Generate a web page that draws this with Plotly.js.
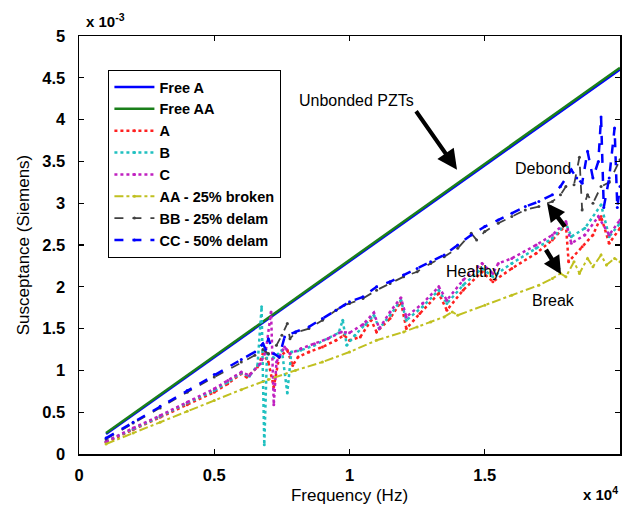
<!DOCTYPE html>
<html>
<head>
<meta charset="utf-8">
<script src="https://cdn.plot.ly/plotly-3.0.1.min.js"></script>
<style>html,body{margin:0;padding:0;background:#fff;}#chart{width:624px;height:514px;}</style>
</head>
<body>
<div id="chart"></div>
<script>
// Frequency in Hz, susceptance in units of 1e-3 S
const freeA_x = [1000, 5000, 10000, 15000, 20000];
const freeA_y = [0.24, 1.16, 2.31, 3.45, 4.60];
const freeAA_x = [1000, 5000, 10000, 15000, 20000];
const freeAA_y = [0.25, 1.17, 2.32, 3.47, 4.62];

const A_x = [1000,2000,3000,4000,5000,5500,6000,6200,6600,6800,7000,7200,7400,7700,7900,8100,8500,9000,9500,9800,10000,10400,10800,11000,11500,11900,12100,12600,13300,13600,14200,14900,15300,16000,16900,17500,18000,18100,18600,19000,19300,19600,20000];
const A_y = [0.14,0.29,0.44,0.59,0.74,0.84,0.96,0.92,1.04,1.20,1.10,0.80,1.16,1.24,1.06,1.16,1.22,1.28,1.36,1.42,1.36,1.40,1.60,1.46,1.62,1.82,1.50,1.68,1.92,1.72,1.96,2.18,2.06,2.22,2.40,2.56,2.74,2.30,2.48,2.62,2.84,2.52,2.70];

const B_x = [1000,2000,3000,4000,5000,5500,6000,6300,6600,6750,6850,6950,7200,7500,7700,7850,8200,8700,9200,9600,9750,9900,10200,10600,10900,11100,11500,11900,12100,12700,13300,13600,14200,14900,15300,16000,16900,17500,18000,18200,18700,19300,19600,20000];
const B_y = [0.15,0.30,0.45,0.61,0.76,0.86,0.97,0.93,1.06,1.76,0.11,1.20,1.15,1.24,0.73,1.22,1.24,1.30,1.38,1.45,1.60,1.30,1.42,1.55,1.66,1.50,1.66,1.84,1.60,1.76,1.96,1.80,2.02,2.22,2.12,2.28,2.46,2.58,2.76,2.60,2.70,2.98,2.60,2.76];

const C_x = [1000,2000,3000,4000,5000,5500,6000,6300,6700,6900,7100,7200,7300,7600,7800,8200,8700,9200,9700,10000,10500,10900,11100,11500,11900,12100,12700,13300,13600,14200,14900,15300,15500,16000,16900,17500,18000,18200,18700,19200,19600,20000];
const C_y = [0.15,0.31,0.46,0.62,0.78,0.88,0.98,0.94,1.08,1.22,1.70,0.59,1.10,1.28,1.20,1.26,1.32,1.38,1.46,1.45,1.55,1.69,1.50,1.70,1.87,1.64,1.80,2.00,1.84,2.08,2.28,2.16,2.28,2.34,2.50,2.62,2.78,2.52,2.62,2.84,2.62,2.80];

const AA_x = [1000,2000,3000,4000,5000,6000,7000,8000,9000,10000,11000,12000,12500,13000,13500,13800,14000,15000,16000,17000,17500,17800,18000,18300,18500,18800,19000,19300,19500,19800,20000];
const AA_y = [0.12,0.25,0.38,0.51,0.64,0.77,0.89,1.00,1.10,1.22,1.36,1.46,1.52,1.58,1.64,1.70,1.66,1.78,1.90,2.02,2.10,2.16,2.12,2.30,2.16,2.34,2.24,2.38,2.26,2.34,2.30];

const BB_x = [1000,2000,3000,4000,5000,6000,6500,6800,7000,7300,7500,7700,7800,8000,8500,9000,9500,9800,10000,10500,11000,11500,12000,12500,13000,13500,14000,14500,14700,15000,15500,16000,16500,17000,17500,17800,18000,18300,18500,18600,18800,19000,19300,19600,20000];
const BB_y = [0.18,0.37,0.55,0.74,0.92,1.10,1.18,1.25,1.20,1.30,1.42,1.56,1.38,1.45,1.50,1.60,1.72,1.78,1.80,1.86,1.96,2.04,2.12,2.18,2.28,2.36,2.46,2.64,2.56,2.66,2.76,2.84,2.92,2.96,3.02,3.10,3.20,3.22,3.55,2.92,3.10,3.00,3.20,3.25,3.52];

const CC_x = [1000,2000,3000,4000,5000,6000,6500,6800,6900,7000,7200,7400,7600,8000,8500,9000,9500,10000,10500,11000,11500,12000,12500,13000,13500,14000,14500,15000,15500,16000,16500,17000,17500,17800,18200,18400,18600,18800,19000,19200,19300,19400,19600,19800,19900,20000];
const CC_y = [0.19,0.38,0.57,0.76,0.95,1.13,1.22,1.32,1.25,1.38,1.20,1.16,1.40,1.46,1.52,1.62,1.72,1.82,1.88,2.00,2.06,2.14,2.22,2.30,2.38,2.50,2.62,2.72,2.80,2.88,2.96,3.02,3.10,3.20,3.40,3.30,3.24,3.62,3.30,3.50,4.03,2.95,3.30,3.90,2.95,3.20];

const names = ['Free A','Free AA','A','B','C','AA - 25% broken','BB - 25% delam','CC - 50% delam'];
const xTickVals = [0, 5000, 10000, 15000, 20000];
const xTickText = ['0', '0.5', '1', '1.5', '2'];
const yTickVals = [0, 0.5, 1, 1.5, 2, 2.5, 3, 3.5, 4, 4.5, 5];
const yTickText = ['0','0.5','1','1.5','2','2.5','3','3.5','4','4.5','5'];

function tr(x, y, name, color, dash, width, markers) {
  return {
    x: x, y: y, name: name, type: 'scatter',
    mode: markers ? 'lines+markers' : 'lines',
    line: {color: color, dash: dash, width: width},
    marker: {color: color, size: 3}
  };
}

const data = [
  tr(freeA_x, freeA_y, names[0], '#0000ff', 'solid', 2.5, false),
  tr(freeAA_x, freeAA_y, names[1], '#1a7f1a', 'solid', 2.5, false),
  tr(A_x, A_y, names[2], '#ff2020', 'dot', 2.5, true),
  tr(B_x, B_y, names[3], '#20c0c0', 'dot', 2.5, true),
  tr(C_x, C_y, names[4], '#c020c0', 'dot', 2.5, true),
  tr(AA_x, AA_y, names[5], '#c0c020', 'dashdot', 2, true),
  tr(BB_x, BB_y, names[6], '#404040', 'dash', 1.8, true),
  tr(CC_x, CC_y, names[7], '#0000ff', 'dash', 2.5, true)
];

const fam = 'Arial, Liberation Sans, sans-serif';
const arrowStyle = {showarrow: true, arrowhead: 2, arrowsize: 0.8, arrowwidth: 4.5, arrowcolor: '#000', text: ''};

const layout = {
  width: 624, height: 514,
  margin: {l: 79, r: 4, t: 36, b: 60},
  paper_bgcolor: '#fff', plot_bgcolor: '#fff',
  showlegend: true,
  font: {family: fam, color: '#000'},
  xaxis: {
    range: [0, 20000], tickvals: xTickVals, ticktext: xTickText,
    ticks: 'inside', ticklen: 5, tickwidth: 1.2, tickcolor: '#000',
    showline: true, linecolor: '#000', linewidth: 1.5, mirror: 'ticks',
    showgrid: false, zeroline: false,
    tickfont: {size: 16.5, family: fam, weight: 'bold'},
    ticklabelstandoff: 6,
    title: {text: 'Frequency (Hz)', font: {size: 17, family: fam}, standoff: 6}
  },
  yaxis: {
    range: [0, 5], tickvals: yTickVals, ticktext: yTickText,
    ticks: 'inside', ticklen: 5, tickwidth: 1.2, tickcolor: '#000',
    showline: true, linecolor: '#000', linewidth: 1.5, mirror: 'ticks',
    showgrid: false, zeroline: false,
    tickfont: {size: 16.5, family: fam, weight: 'bold'},
    ticklabelstandoff: 9,
    title: {text: 'Susceptance (Siemens)', font: {size: 17, family: fam}, standoff: 8}
  },
  legend: {
    x: 0.054, y: 0.919, xanchor: 'left', yanchor: 'top',
    bgcolor: '#fff', bordercolor: '#000', borderwidth: 1.2,
    itemwidth: 40,
    font: {size: 14.5, family: fam, weight: 'bold'}, tracegroupgap: 0
  },
  annotations: [
    {xref: 'paper', yref: 'paper', x: 0, y: 1, xanchor: 'left', yanchor: 'bottom', xshift: 5, yshift: 4, showarrow: false,
     text: 'x 10<sup>-3</sup>', font: {size: 15, family: fam, weight: 'bold'}},
    {xref: 'paper', yref: 'paper', x: 1, y: 0, xanchor: 'right', yanchor: 'top', yshift: -28, showarrow: false,
     text: 'x 10<sup>4</sup>', font: {size: 15, family: fam, weight: 'bold'}},
    {xref: 'x', yref: 'y', x: 10277, y: 4.23, showarrow: false, text: 'Unbonded PZTs', font: {size: 16, family: fam}},
    Object.assign({xref: 'x', yref: 'y', x: 13975, y: 3.40, ax: -42, ay: -60}, arrowStyle, {arrowsize: 1, arrowwidth: 4}),
    {xref: 'x', yref: 'y', x: 17154, y: 3.42, showarrow: false, text: 'Debond', font: {size: 16, family: fam}},
    Object.assign({xref: 'x', yref: 'y', x: 17302, y: 3.00, ax: 19, ay: 25}, arrowStyle),
    {xref: 'x', yref: 'y', x: 14566, y: 2.18, showarrow: false, text: 'Healthy', font: {size: 16, family: fam}},
    Object.assign({xref: 'x', yref: 'y', x: 17820, y: 2.15, ax: -16, ay: -26}, arrowStyle),
    {xref: 'x', yref: 'y', x: 17524, y: 1.84, showarrow: false, text: 'Break', font: {size: 16, family: fam}}
  ]
};

Plotly.newPlot('chart', data, layout, {displayModeBar: false, staticPlot: true});
</script>
</body>
</html>
